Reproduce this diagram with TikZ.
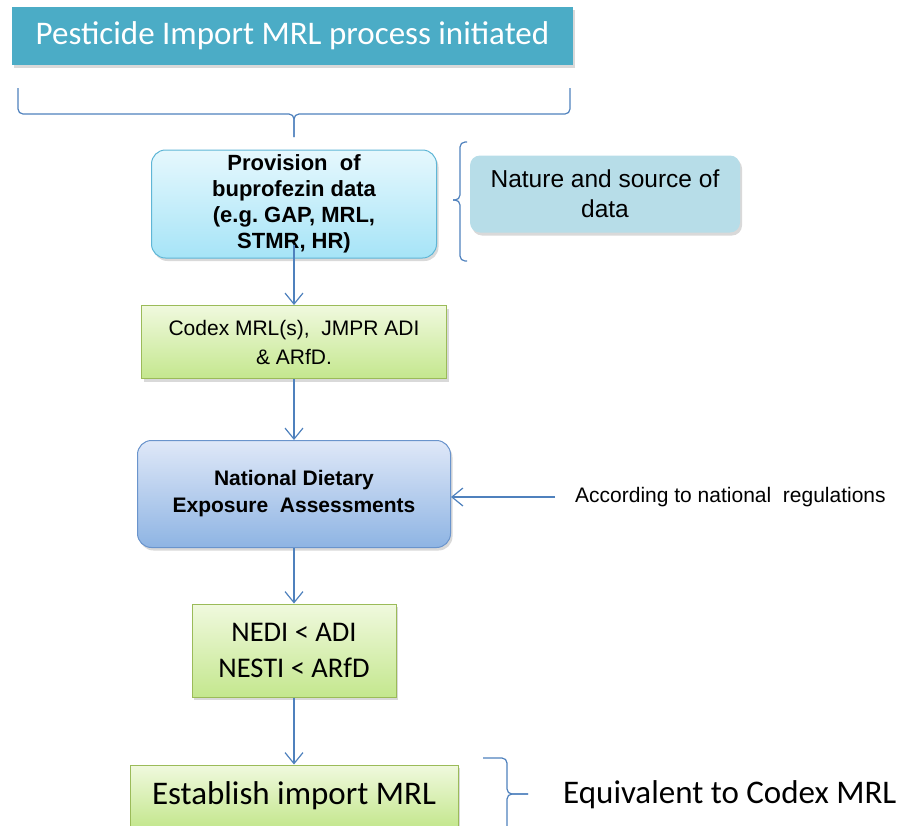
\documentclass[tikz,border=0pt]{standalone}
\usepackage{fontspec}
\setmainfont{Liberation Sans}
\newfontfamily\calib{Carlito}
\usetikzlibrary{arrows.meta}
\usetikzlibrary{shadows}

\definecolor{titleblue}{HTML}{4BACC6}
\definecolor{linkblue}{HTML}{4F81BD}
\definecolor{cyanedge}{HTML}{5FB6D6}
\definecolor{cyantop}{HTML}{E6F8FD}
\definecolor{cyanbot}{HTML}{A6E4F7}
\definecolor{naturefill}{HTML}{B7DDE8}
\definecolor{greenedge}{HTML}{9BBB59}
\definecolor{greentop}{HTML}{F0F9DE}
\definecolor{greenbot}{HTML}{C4E78E}
\definecolor{blueedge}{HTML}{6A94CC}
\definecolor{bluetop}{HTML}{DFE8F8}
\definecolor{bluebot}{HTML}{8EB4E3}

\begin{document}
\begin{tikzpicture}[x=1pt,y=-1pt,
    shade/.style={drop shadow={shadow xshift=2pt,shadow yshift=-3pt,opacity=0.3}},
    cyanbox/.style={draw=cyanedge, line width=1pt, rounded corners=14pt, top color=cyantop, bottom color=cyanbot, align=center, font=\bfseries\fontsize{22}{26}\selectfont, inner sep=0pt, shade},
    greenbox/.style={draw=greenedge, line width=1pt, top color=greentop, bottom color=greenbot, align=center, inner sep=0pt, shade},
    bluebox/.style={draw=blueedge, line width=1pt, rounded corners=14pt, top color=bluetop, bottom color=bluebot, align=center, font=\bfseries\fontsize{21}{27}\selectfont, inner sep=0pt, shade},
    link/.style={draw=linkblue, line width=1.2pt, -{Straight Barb[length=11pt,width=18pt,line width=1.2pt]}},
    bracket/.style={draw=linkblue, line width=1.2pt, rounded corners=5pt}]
        \useasboundingbox (0,0) rectangle (901,825);
        % top
        \node[fill=titleblue, text=white, minimum width=561pt, minimum height=58pt, inner sep=0pt, font=\calib\fontsize{33}{38}\selectfont, shade] (title) at (292.5,36) {Pesticide Import MRL process initiated};
        \coordinate (tl) at (18,88);
        \coordinate (tr) at (570,88);
        \coordinate (tm) at (294,137);
        \draw[bracket] (tl) |- (294,114) -- (tm);
        \draw[bracket] (tr) |- (294,114) -- (tm);
        % data
        \node[cyanbox, minimum width=285pt, minimum height=108pt] (prov) at (294,204) {Provision\ \ of\\buprofezin data\\(e.g.~GAP, MRL,\\STMR, HR)};
        \node[fill=naturefill, rounded corners=10pt, minimum width=270pt, minimum height=77pt, inner sep=0pt, align=center, font=\fontsize{24.5}{30}\selectfont, shade] (nature) at (605,194) {Nature and source of\\data};
        \coordinate (nt) at (467,142);
        \coordinate (nb) at (467,261);
        \coordinate (nm) at (453,200);
        \draw[bracket] (nt) -| (460,200) -- (nm);
        \draw[bracket] (nb) -| (460,200) -- (nm);
        \node[greenbox, minimum width=305pt, minimum height=73pt, font=\fontsize{21}{29}\selectfont] (codex) at (294,342) {Codex MRL(s),\ \ JMPR ADI\\\& ARfD.};
        % assessment
        \node[bluebox, minimum width=313pt, minimum height=107pt] (ndea) at (294,494) {National Dietary\\Exposure\ \ Assessments};
        \node[anchor=west, inner sep=0pt, font=\fontsize{21}{24}\selectfont] (reg) at (575,497) {According to national\ \ regulations};
        \node[greenbox, minimum width=204pt, minimum height=93pt, font=\calib\fontsize{28.5}{36}\selectfont] (nedi) at (294,650.5) {NEDI < ADI\\NESTI < ARfD};
        \node[greenbox, minimum width=328pt, minimum height=62pt, font=\calib\fontsize{33}{38}\selectfont] (estab) at (294,796) {Establish import MRL};
        \node[anchor=west, inner sep=0pt, font=\calib\fontsize{33}{38}\selectfont] (equiv) at (563,795) {Equivalent to Codex MRL};
        \coordinate (et) at (483,758);
        \coordinate (eb) at (483,834);
        \coordinate (em) at (528,794);
        \draw[bracket] (et) -| (507,794) -- (em);
        \draw[bracket] (eb) -| (507,794) -- (em);
        % arrows
        \draw[link] ([yshift=14pt]prov.south) -- (codex.north);
        \draw[link] (codex) -- (ndea);
        \draw[link] ([xshift=-20pt]reg.west) -- (reg.west -| ndea.east);
        \draw[link] (ndea) -- (nedi);
        \draw[link] (nedi) -- (estab);
    \end{tikzpicture}
\end{document}
